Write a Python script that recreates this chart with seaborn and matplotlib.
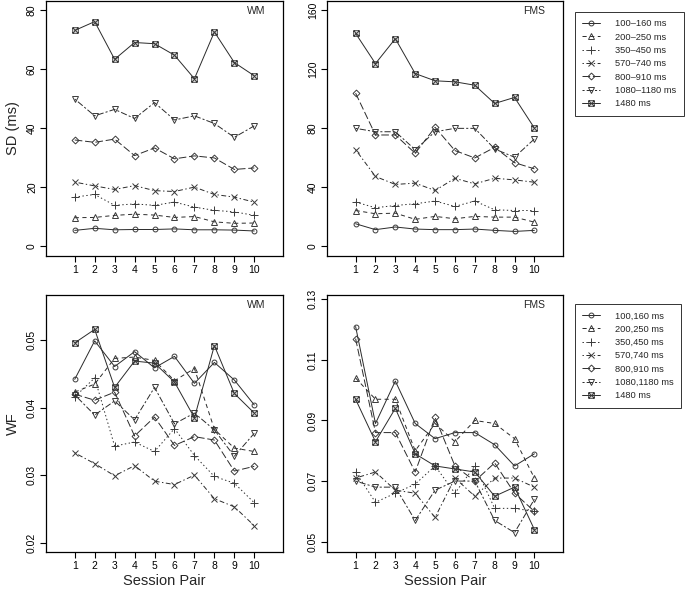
import matplotlib
matplotlib.use('Agg')
import matplotlib.pyplot as plt
from matplotlib.path import Path
import seaborn as sns

# Session pairs on the x axis
sessions = [1, 2, 3, 4, 5, 6, 7, 8, 9, 10]

labels_top = ['100–160 ms', '200–250 ms', '350–450 ms', '570–740 ms',
              '800–910 ms', '1080–1180 ms', '1480 ms']
labels_bottom = ['100,160 ms', '200,250 ms', '350,450 ms', '570,740 ms',
                 '800,910 ms', '1080,1180 ms', '1480 ms']

# SD (ms), WM group, one row per interval
sd_wm = [
    [5.3, 6.0, 5.5, 5.6, 5.6, 5.8, 5.5, 5.5, 5.4, 5.1],
    [9.6, 9.7, 10.4, 10.8, 10.5, 9.7, 10.0, 8.2, 7.7, 7.8],
    [16.6, 17.5, 13.8, 14.3, 13.8, 14.9, 13.2, 12.1, 11.6, 10.4],
    [21.7, 20.4, 19.2, 20.5, 18.8, 18.5, 20.0, 17.5, 16.6, 14.9],
    [36.0, 35.2, 36.3, 30.7, 33.3, 29.6, 30.6, 29.9, 26.0, 26.5],
    [49.9, 44.2, 46.4, 43.3, 48.7, 42.8, 44.2, 41.6, 36.9, 40.8],
    [73.2, 76.2, 63.4, 69.1, 68.7, 64.8, 56.8, 72.7, 62.3, 57.8],
]

# SD (ms), FMS group
sd_fms = [
    [15.1, 11.1, 12.9, 11.5, 11.1, 11.1, 11.5, 10.6, 9.9, 10.6],
    [24.1, 21.9, 22.3, 18.1, 20.1, 18.5, 20.1, 19.6, 19.6, 16.2],
    [29.8, 26.0, 27.5, 28.7, 30.5, 26.9, 30.5, 24.6, 24.1, 24.1],
    [65.4, 47.2, 41.8, 42.7, 37.7, 46.0, 42.2, 46.0, 44.9, 43.3],
    [103.8, 75.4, 75.4, 63.0, 80.6, 64.8, 59.8, 67.0, 56.6, 52.4],
    [79.9, 77.6, 77.6, 65.4, 77.6, 79.9, 79.9, 65.9, 60.3, 72.7],
    [144.4, 123.9, 140.8, 117.1, 112.2, 111.5, 109.2, 96.8, 100.9, 80.1],
]

# Weber fraction, WM group
wf_wm = [
    [0.0442, 0.0499, 0.0461, 0.0483, 0.0459, 0.0476, 0.0436, 0.0467, 0.0441, 0.0404],
    [0.0423, 0.0435, 0.0473, 0.0475, 0.0470, 0.0440, 0.0458, 0.0368, 0.0340, 0.0335],
    [0.0416, 0.0444, 0.0343, 0.0349, 0.0335, 0.0369, 0.0329, 0.0298, 0.0288, 0.0259],
    [0.0333, 0.0317, 0.0299, 0.0314, 0.0291, 0.0286, 0.0300, 0.0265, 0.0253, 0.0225],
    [0.0420, 0.0411, 0.0423, 0.0358, 0.0386, 0.0344, 0.0357, 0.0352, 0.0306, 0.0313],
    [0.0419, 0.0389, 0.0410, 0.0382, 0.0430, 0.0376, 0.0392, 0.0367, 0.0328, 0.0362],
    [0.0496, 0.0516, 0.0430, 0.0469, 0.0466, 0.0438, 0.0385, 0.0492, 0.0421, 0.0392],
]

# Weber fraction, FMS group
wf_fms = [
    [0.121, 0.089, 0.103, 0.089, 0.084, 0.086, 0.086, 0.082, 0.075, 0.079],
    [0.104, 0.097, 0.097, 0.080, 0.089, 0.083, 0.090, 0.089, 0.084, 0.071],
    [0.073, 0.063, 0.066, 0.069, 0.075, 0.066, 0.075, 0.061, 0.061, 0.060],
    [0.071, 0.073, 0.067, 0.066, 0.058, 0.071, 0.065, 0.071, 0.071, 0.068],
    [0.117, 0.086, 0.086, 0.073, 0.091, 0.075, 0.070, 0.076, 0.066, 0.060],
    [0.070, 0.068, 0.068, 0.057, 0.067, 0.070, 0.070, 0.057, 0.053, 0.064],
    [0.097, 0.083, 0.094, 0.079, 0.075, 0.074, 0.073, 0.065, 0.068, 0.054],
]

sns.set_theme(style='ticks')
plt.rcParams['font.family'] = ['Liberation Sans', 'DejaVu Sans']
plt.rcParams['lines.scale_dashes'] = False
plt.rcParams['axes.linewidth'] = 0.9

# square with a cross, like R's pch 7
sq_x = Path([(-1, -1), (1, -1), (1, 1), (-1, 1), (-1, -1),
             (-1, -1), (1, 1), (-1, 1), (1, -1)],
            [Path.MOVETO, Path.LINETO, Path.LINETO, Path.LINETO, Path.CLOSEPOLY,
             Path.MOVETO, Path.LINETO, Path.MOVETO, Path.LINETO])

markers = ['o', '^', '+', 'x', 'D', 'v', sq_x]
msizes = [3.5, 4, 5.5, 4, 3.5, 4, 4]
linestyles = ['-', (0, (3, 2.5)), (0, (1, 1.8)), (0, (1, 1.8, 3.5, 1.8)),
              (0, (5.5, 2)), (0, (1.5, 1.5, 4.5, 1.5)), '-']

W, H = 685, 589
fig = plt.figure(figsize=(W / 100, H / 100), dpi=100)

def box(x0, x1, y0, y1):
    return [x0 / W, 1 - y1 / H, (x1 - x0) / W, (y1 - y0) / H]

panels = [
    (box(46, 283, 1, 256), sd_wm, 'WM', (-3.4, 83.2), [0, 20, 40, 60, 80], ['0', '20', '40', '60', '80']),
    (box(327, 563, 1, 256), sd_fms, 'FMS', (-6.8, 166.4), [0, 40, 80, 120, 160], ['0', '40', '80', '120', '160']),
    (box(46, 283, 295, 552), wf_wm, 'WM', (0.0186, 0.0567), [0.02, 0.03, 0.04, 0.05], ['0.02', '0.03', '0.04', '0.05']),
    (box(327, 563, 295, 552), wf_fms, 'FMS', (0.0466, 0.1314), [0.05, 0.07, 0.09, 0.11, 0.13], ['0.05', '0.07', '0.09', '0.11', '0.13']),
]

axes = []
for rect, series, tag, ylim, yt, ytl in panels:
    ax = fig.add_axes(rect)
    for i, vals in enumerate(series):
        sns.lineplot(x=sessions, y=vals, ax=ax, color='#2a2a2a', linewidth=0.7,
                     linestyle=linestyles[i], marker=markers[i], markersize=msizes[i],
                     markerfacecolor='none', markeredgecolor='#3a3a3a',
                     markeredgewidth=0.7, label=None, legend=False)
    ax.set_xlim(-0.44, 11.44)
    ax.set_ylim(*ylim)
    ax.set_xticks(sessions)
    ax.set_xticklabels([str(s) for s in sessions])
    ax.set_yticks(yt)
    ax.set_yticklabels(ytl, rotation=90, va='center')
    ax.tick_params(direction='out', length=4, width=0.8, pad=2.5, labelsize=7.5, colors='black')
    ax.set_xlabel('')
    ax.set_ylabel('')
    for s in ax.spines.values():
        s.set_color('black')
    ax.text(0.925, 0.962, tag, transform=ax.transAxes, ha='right', va='center', fontsize=7.5)
    axes.append(ax)

axes[0].set_ylabel('SD (ms)', fontsize=10.5, labelpad=5)
axes[2].set_ylabel('WF', fontsize=10.5, labelpad=5)
axes[2].set_xlabel('Session Pair', fontsize=10.5, labelpad=2)
axes[3].set_xlabel('Session Pair', fontsize=10.5, labelpad=2)

for ax, labs, top in [(axes[1], labels_top, 12), (axes[3], labels_bottom, 304)]:
    handles = ax.get_lines()[:7]
    leg = fig.legend(handles, labs, loc='upper left', bbox_to_anchor=(575 / W, 1 - top / H),
                     fontsize=6.7, frameon=True, fancybox=False, edgecolor='black',
                     handlelength=1.9, handletextpad=1.6, labelspacing=0.46,
                     borderpad=0.8, borderaxespad=0)
    leg.get_frame().set_linewidth(0.7)

fig.savefig('out.png', dpi=100)
